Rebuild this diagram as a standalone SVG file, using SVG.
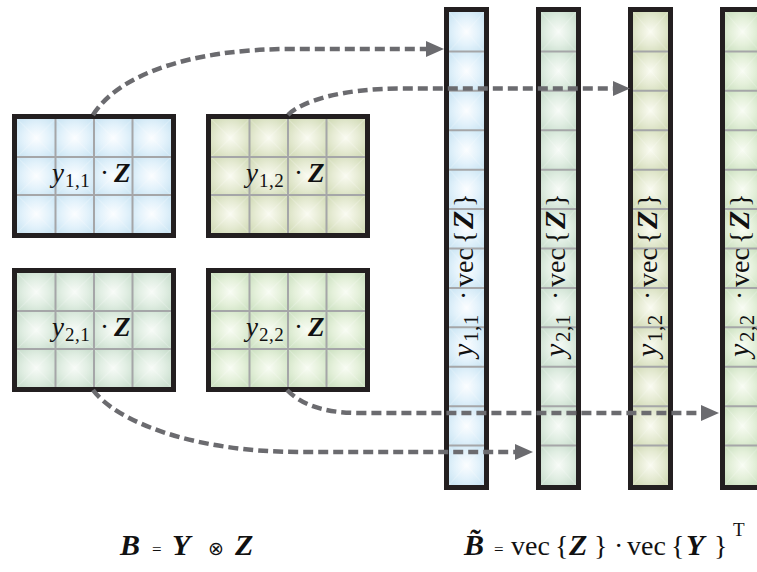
<svg xmlns="http://www.w3.org/2000/svg" width="757" height="572" viewBox="0 0 757 572">
<style>
.bord{fill:none;stroke:#231f20;stroke-width:5}
.grid{fill:none;stroke:#a5a6a8;stroke-width:2}
.conn{fill:none;stroke:#6b6b6f;stroke-width:4.5;stroke-dasharray:10 5}
.head{fill:#6b6b6f}
.m{font-family:"Liberation Serif","DejaVu Serif",serif;fill:#111}
.i{font-style:italic}
.bi{font-style:italic;font-weight:bold}
.seam{stroke:#ffffff;stroke-opacity:0.22;stroke-width:1}
</style>
<defs>
<radialGradient id="gBlue" cx="0.5" cy="0.5" r="0.62"><stop offset="0" stop-color="#fbfdff"/><stop offset="0.55" stop-color="#e3f2fb"/><stop offset="1" stop-color="#cde6f4"/></radialGradient>
<radialGradient id="gMint" cx="0.5" cy="0.5" r="0.62"><stop offset="0" stop-color="#f7fbf7"/><stop offset="0.55" stop-color="#e1eee3"/><stop offset="1" stop-color="#cbdfcf"/></radialGradient>
<radialGradient id="gOlive" cx="0.5" cy="0.5" r="0.62"><stop offset="0" stop-color="#fafbf1"/><stop offset="0.55" stop-color="#e6ebd4"/><stop offset="1" stop-color="#d3dcb9"/></radialGradient>
<radialGradient id="gLime" cx="0.5" cy="0.5" r="0.62"><stop offset="0" stop-color="#f8fcf3"/><stop offset="0.55" stop-color="#e4f0da"/><stop offset="1" stop-color="#cee2c3"/></radialGradient>
<pattern id="bBlue" patternUnits="userSpaceOnUse" width="38.5" height="38"><rect width="38.5" height="38" fill="url(#gBlue)"/><path class="seam" d="M0,0L38.5,38M38.5,0L0,38"/></pattern>
<pattern id="bMint" patternUnits="userSpaceOnUse" width="38.5" height="38"><rect width="38.5" height="38" fill="url(#gMint)"/><path class="seam" d="M0,0L38.5,38M38.5,0L0,38"/></pattern>
<pattern id="bOlive" patternUnits="userSpaceOnUse" width="38.5" height="38"><rect width="38.5" height="38" fill="url(#gOlive)"/><path class="seam" d="M0,0L38.5,38M38.5,0L0,38"/></pattern>
<pattern id="bLime" patternUnits="userSpaceOnUse" width="38.5" height="38"><rect width="38.5" height="38" fill="url(#gLime)"/><path class="seam" d="M0,0L38.5,38M38.5,0L0,38"/></pattern>
<pattern id="cBlue" patternUnits="userSpaceOnUse" width="35" height="39.4167"><rect width="35" height="39.4167" fill="url(#gBlue)"/><path class="seam" d="M0,0L35,39.4167M35,0L0,39.4167"/></pattern>
<pattern id="cMint" patternUnits="userSpaceOnUse" width="35" height="39.4167"><rect width="35" height="39.4167" fill="url(#gMint)"/><path class="seam" d="M0,0L35,39.4167M35,0L0,39.4167"/></pattern>
<pattern id="cOlive" patternUnits="userSpaceOnUse" width="35" height="39.4167"><rect width="35" height="39.4167" fill="url(#gOlive)"/><path class="seam" d="M0,0L35,39.4167M35,0L0,39.4167"/></pattern>
<pattern id="cLime" patternUnits="userSpaceOnUse" width="35" height="39.4167"><rect width="35" height="39.4167" fill="url(#gLime)"/><path class="seam" d="M0,0L35,39.4167M35,0L0,39.4167"/></pattern>
</defs>
<rect width="757" height="572" fill="#ffffff"/>

<g id="block-y11" transform="translate(17,119)">
<rect width="154" height="114" fill="url(#bBlue)"/>
<path class="grid" d="M38.5,0V114M77,0V114M115.5,0V114M0,38H154M0,76H154"/>
<rect class="bord" x="-2.5" y="-2.5" width="159" height="119"/>
<text class="m" y="63" font-size="27"><tspan x="35" class="i">y</tspan><tspan x="48" y="68" font-size="19" letter-spacing="0.5">1,1</tspan><tspan x="83" y="63">·</tspan><tspan x="97" class="bi">Z</tspan></text>
</g>
<g id="block-y12" transform="translate(211,119)">
<rect width="154" height="114" fill="url(#bOlive)"/>
<path class="grid" d="M38.5,0V114M77,0V114M115.5,0V114M0,38H154M0,76H154"/>
<rect class="bord" x="-2.5" y="-2.5" width="159" height="119"/>
<text class="m" y="63" font-size="27"><tspan x="35" class="i">y</tspan><tspan x="48" y="68" font-size="19" letter-spacing="0.5">1,2</tspan><tspan x="83" y="63">·</tspan><tspan x="97" class="bi">Z</tspan></text>
</g>
<g id="block-y21" transform="translate(17,273)">
<rect width="154" height="114" fill="url(#bMint)"/>
<path class="grid" d="M38.5,0V114M77,0V114M115.5,0V114M0,38H154M0,76H154"/>
<rect class="bord" x="-2.5" y="-2.5" width="159" height="119"/>
<text class="m" y="63" font-size="27"><tspan x="35" class="i">y</tspan><tspan x="48" y="68" font-size="19" letter-spacing="0.5">2,1</tspan><tspan x="83" y="63">·</tspan><tspan x="97" class="bi">Z</tspan></text>
</g>
<g id="block-y22" transform="translate(211,273)">
<rect width="154" height="114" fill="url(#bLime)"/>
<path class="grid" d="M38.5,0V114M77,0V114M115.5,0V114M0,38H154M0,76H154"/>
<rect class="bord" x="-2.5" y="-2.5" width="159" height="119"/>
<text class="m" y="63" font-size="27"><tspan x="35" class="i">y</tspan><tspan x="48" y="68" font-size="19" letter-spacing="0.5">2,2</tspan><tspan x="83" y="63">·</tspan><tspan x="97" class="bi">Z</tspan></text>
</g>

<g id="col-y11" transform="translate(449,12)">
<rect width="35" height="473" fill="url(#cBlue)"/>
<path class="grid" d="M0,39.42H35M0,78.83H35M0,118.25H35M0,157.67H35M0,197.08H35M0,236.5H35M0,275.92H35M0,315.33H35M0,354.75H35M0,394.17H35M0,433.58H35"/>
<rect class="bord" x="-2.5" y="-2.5" width="40" height="478"/>
<text class="m" font-size="28" transform="translate(24,345) rotate(-90)"><tspan x="0" y="0" class="i" font-size="30">y</tspan><tspan x="15" y="5" font-size="21" letter-spacing="0.5">1,1</tspan><tspan x="57" y="0">·</tspan><tspan x="70">vec</tspan><tspan x="113">{</tspan><tspan x="128" class="bi" font-size="30">Z</tspan><tspan x="150">}</tspan></text>
</g>
<g id="col-y21" transform="translate(541,12)">
<rect width="35" height="473" fill="url(#cMint)"/>
<path class="grid" d="M0,39.42H35M0,78.83H35M0,118.25H35M0,157.67H35M0,197.08H35M0,236.5H35M0,275.92H35M0,315.33H35M0,354.75H35M0,394.17H35M0,433.58H35"/>
<rect class="bord" x="-2.5" y="-2.5" width="40" height="478"/>
<text class="m" font-size="28" transform="translate(24,345) rotate(-90)"><tspan x="0" y="0" class="i" font-size="30">y</tspan><tspan x="15" y="5" font-size="21" letter-spacing="0.5">2,1</tspan><tspan x="57" y="0">·</tspan><tspan x="70">vec</tspan><tspan x="113">{</tspan><tspan x="128" class="bi" font-size="30">Z</tspan><tspan x="150">}</tspan></text>
</g>
<g id="col-y12" transform="translate(633,12)">
<rect width="35" height="473" fill="url(#cOlive)"/>
<path class="grid" d="M0,39.42H35M0,78.83H35M0,118.25H35M0,157.67H35M0,197.08H35M0,236.5H35M0,275.92H35M0,315.33H35M0,354.75H35M0,394.17H35M0,433.58H35"/>
<rect class="bord" x="-2.5" y="-2.5" width="40" height="478"/>
<text class="m" font-size="28" transform="translate(24,345) rotate(-90)"><tspan x="0" y="0" class="i" font-size="30">y</tspan><tspan x="15" y="5" font-size="21" letter-spacing="0.5">1,2</tspan><tspan x="57" y="0">·</tspan><tspan x="70">vec</tspan><tspan x="113">{</tspan><tspan x="128" class="bi" font-size="30">Z</tspan><tspan x="150">}</tspan></text>
</g>
<g id="col-y22" transform="translate(725,12)">
<rect width="35" height="473" fill="url(#cLime)"/>
<path class="grid" d="M0,39.42H35M0,78.83H35M0,118.25H35M0,157.67H35M0,197.08H35M0,236.5H35M0,275.92H35M0,315.33H35M0,354.75H35M0,394.17H35M0,433.58H35"/>
<rect class="bord" x="-2.5" y="-2.5" width="40" height="478"/>
<text class="m" font-size="28" transform="translate(24,345) rotate(-90)"><tspan x="0" y="0" class="i" font-size="30">y</tspan><tspan x="15" y="5" font-size="21" letter-spacing="0.5">2,2</tspan><tspan x="57" y="0">·</tspan><tspan x="70">vec</tspan><tspan x="113">{</tspan><tspan x="128" class="bi" font-size="30">Z</tspan><tspan x="150">}</tspan></text>
</g>

<g id="connectors">
<path class="conn" d="M93,115C118,75 190,49 290,49L426,49"/>
<polygon class="head" points="426,41 444,49 426,57"/>
<path class="conn" d="M288,115C300,102 340,88.5 400,88.5L613,88.5"/>
<polygon class="head" points="613,81 630,88.5 613,96"/>
<path class="conn" d="M93,390C115,420 190,452 300,452L515,452"/>
<polygon class="head" points="515,444 533,452 515,460"/>
<path class="conn" d="M287,390C300,403 320,413 360,413L701,413"/>
<polygon class="head" points="701,405 719,413 701,421"/>
</g>

<g id="formula-left">
<text class="m" y="555" font-size="30"><tspan x="120" class="bi">B</tspan><tspan x="152" font-size="17">=</tspan><tspan x="172" class="bi">Y</tspan><tspan x="208" font-family="DejaVu Sans" font-size="19">⊗</tspan><tspan x="235" class="bi">Z</tspan></text>
</g>
<g id="formula-right">
<text class="m" y="555" font-size="28"><tspan x="464" class="bi" font-size="30">B̃</tspan><tspan x="494" font-size="17">=</tspan><tspan x="511">vec</tspan><tspan x="555">{</tspan><tspan x="569" class="bi" font-size="30">Z</tspan><tspan x="594">}</tspan><tspan x="614">·</tspan><tspan x="627">vec</tspan><tspan x="671">{</tspan><tspan x="686" class="bi" font-size="30">Y</tspan><tspan x="714">}</tspan><tspan x="733" y="536" font-size="19">T</tspan></text>
</g>
</svg>
